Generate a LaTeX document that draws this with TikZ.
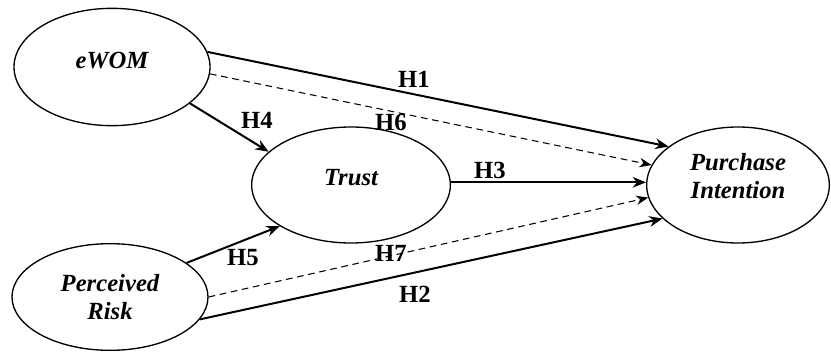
\documentclass[tikz,border=0pt]{standalone}
\usepackage{fontspec}
\setmainfont{Liberation Serif}
\usetikzlibrary{shapes.geometric,arrows.meta}

\begin{document}
\begin{tikzpicture}
[x=0.75pt, y=-0.75pt,
construct/.style={ellipse, draw, line width=1pt, inner sep=0pt, align=center,
	font=\fontsize{18.5}{21}\selectfont\bfseries\itshape},
hyp/.style={font=\fontsize{18.5}{21}\selectfont\bfseries},
direct/.style={line width=1.5pt, -{Stealth[length=10pt,width=8pt]}},
indirect/.style={line width=0.8pt, dash pattern=on 5pt off 3.5pt, -{Stealth[length=9pt,width=7pt]}}]

\useasboundingbox (0,0) rectangle (831,356);

\node[construct, minimum width=147pt, minimum height=88pt, text depth=10pt] (ewom) at(112,67) {eWOM};
\node[construct, minimum width=147pt, minimum height=80pt] (risk) at(110,297) {Perceived\\Risk};
\node[construct, minimum width=149pt, minimum height=87pt, text depth=11pt] (trust) at(351,185) {Trust};
\node[construct, minimum width=137pt, minimum height=87pt, text depth=13pt] (pi) at(738,185) {Purchase\\Intention};

%direct paths
\draw[direct] (ewom.9) -- (pi.151);
\draw[direct] (risk.-14) -- (pi.204);
\draw[direct] ([yshift=2pt]trust.east) -- ([yshift=2pt]pi.west);
\draw[direct] (ewom.-25) -- (trust.158);
\draw[direct] (risk.24) -- (trust.210);

%mediated paths
\draw[indirect] (ewom.-4) -- (pi.167);
\draw[indirect] (risk.0) -- (pi.-172);

\node[hyp] (h1) at(414,79) {H1};
\node[hyp] (h2) at(415,294) {H2};
\node[hyp] (h3) at(490,170) {H3};
\node[hyp] (h4) at(257,120) {H4};
\node[hyp] (h5) at(243,258) {H5};
\node[hyp] (h6) at(391,122) {H6};
\node[hyp] (h7) at(391,253) {H7};
\end{tikzpicture}
\end{document}
